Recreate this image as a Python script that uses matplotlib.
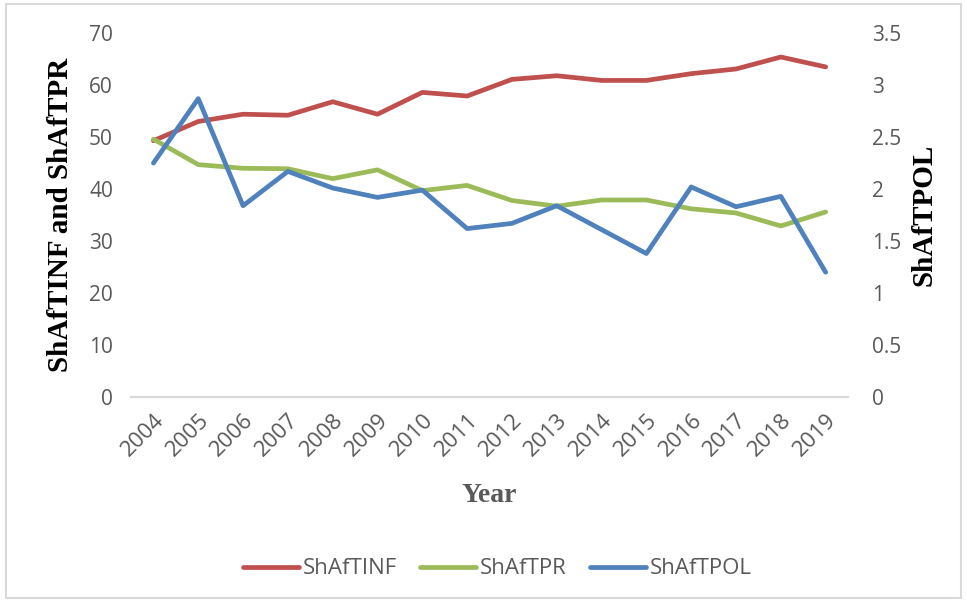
'''
ShAfTINF / ShAfTPR / ShAfTPOL by year, two y axes
'''

import matplotlib.pyplot as plt
from matplotlib.patches import Rectangle
import numpy as np


years = ['2004', '2005', '2006', '2007', '2008', '2009', '2010', '2011',
         '2012', '2013', '2014', '2015', '2016', '2017', '2018', '2019']
shaftinf = [49.3, 53.0, 54.4, 54.2, 56.8, 54.4, 58.6, 57.9,
            61.1, 61.8, 60.9, 60.9, 62.2, 63.1, 65.4, 63.5]
shaftpr = [49.6, 44.7, 44.0, 43.9, 42.0, 43.7, 39.7, 40.7,
           37.8, 36.7, 37.9, 37.9, 36.2, 35.4, 32.9, 35.6]
shaftpol = [2.25, 2.87, 1.84, 2.17, 2.01, 1.92, 1.99, 1.62,
            1.67, 1.84, 1.61, 1.38, 2.02, 1.83, 1.93, 1.20]

RED = '#C0504D'
GREEN = '#9BBB59'
BLUE = '#4F81BD'
GREY = '#595959'
TICK_FONT = 'Open Sans'
TITLE_FONT = 'Liberation Serif'


def main():
    fig = plt.figure(figsize=(9.67, 6.02), dpi=100)
    fig.patches.append(Rectangle((0.006, 0.007), 0.988, 0.986, transform=fig.transFigure,
                                 fill=False, edgecolor='#D9D9D9', linewidth=1.5))
    ax = fig.add_axes([0.1355, 0.3405, 0.7415, 0.6045])
    ax2 = ax.twinx()

    x = np.arange(len(years))
    l1, = ax.plot(x, shaftinf, color=RED, linewidth=3.4, solid_capstyle='round', label='ShAfTINF')
    l2, = ax.plot(x, shaftpr, color=GREEN, linewidth=3.4, solid_capstyle='round', label='ShAfTPR')
    l3, = ax2.plot(x, shaftpol, color=BLUE, linewidth=3.4, solid_capstyle='round', label='ShAfTPOL')

    ax.set_xlim(-0.5, len(years) - 0.5)
    ax.set_ylim(0, 70)
    ax.set_yticks(np.arange(0, 71, 10))
    ax2.set_ylim(0, 3.5)
    ax2.set_yticks(np.arange(0, 3.51, 0.5))
    ax2.set_yticklabels(['0', '0.5', '1', '1.5', '2', '2.5', '3', '3.5'])

    ax.set_xticks(x)
    ax.set_xticklabels(years, rotation=45, ha='right', rotation_mode='anchor')

    for a in (ax, ax2):
        for s in ('top', 'left', 'right'):
            a.spines[s].set_visible(False)
        a.spines['bottom'].set_color('#D9D9D9')
        a.spines['bottom'].set_linewidth(1.5)
        a.tick_params(length=0, labelsize=15, labelcolor=GREY)
        for t in a.get_xticklabels() + a.get_yticklabels():
            t.set_fontfamily(TICK_FONT)
    ax.tick_params(axis='x', labelsize=16, pad=9)
    ax.tick_params(axis='y', pad=13)
    ax2.tick_params(axis='y', pad=17)

    ax.set_ylabel('ShAfTINF and ShAfTPR', fontfamily=TITLE_FONT, fontweight='bold',
                  fontsize=21, color='black', labelpad=11)
    ax2.set_ylabel('ShAfTPOL', fontfamily=TITLE_FONT, fontweight='bold',
                   fontsize=21, color='black', rotation=90, labelpad=7)
    ax.set_xlabel('Year', fontfamily=TITLE_FONT, fontweight='bold', fontsize=20,
                  color=GREY, labelpad=16)

    fig.legend(handles=[l1, l2, l3], loc='center', bbox_to_anchor=(0.5145, 0.055), ncol=3,
               frameon=False, handlelength=2.5, handletextpad=0.18, columnspacing=1.05,
               prop={'family': TICK_FONT, 'size': 16}, labelcolor=GREY)

    fig.savefig('out.png', dpi=100)


main()
